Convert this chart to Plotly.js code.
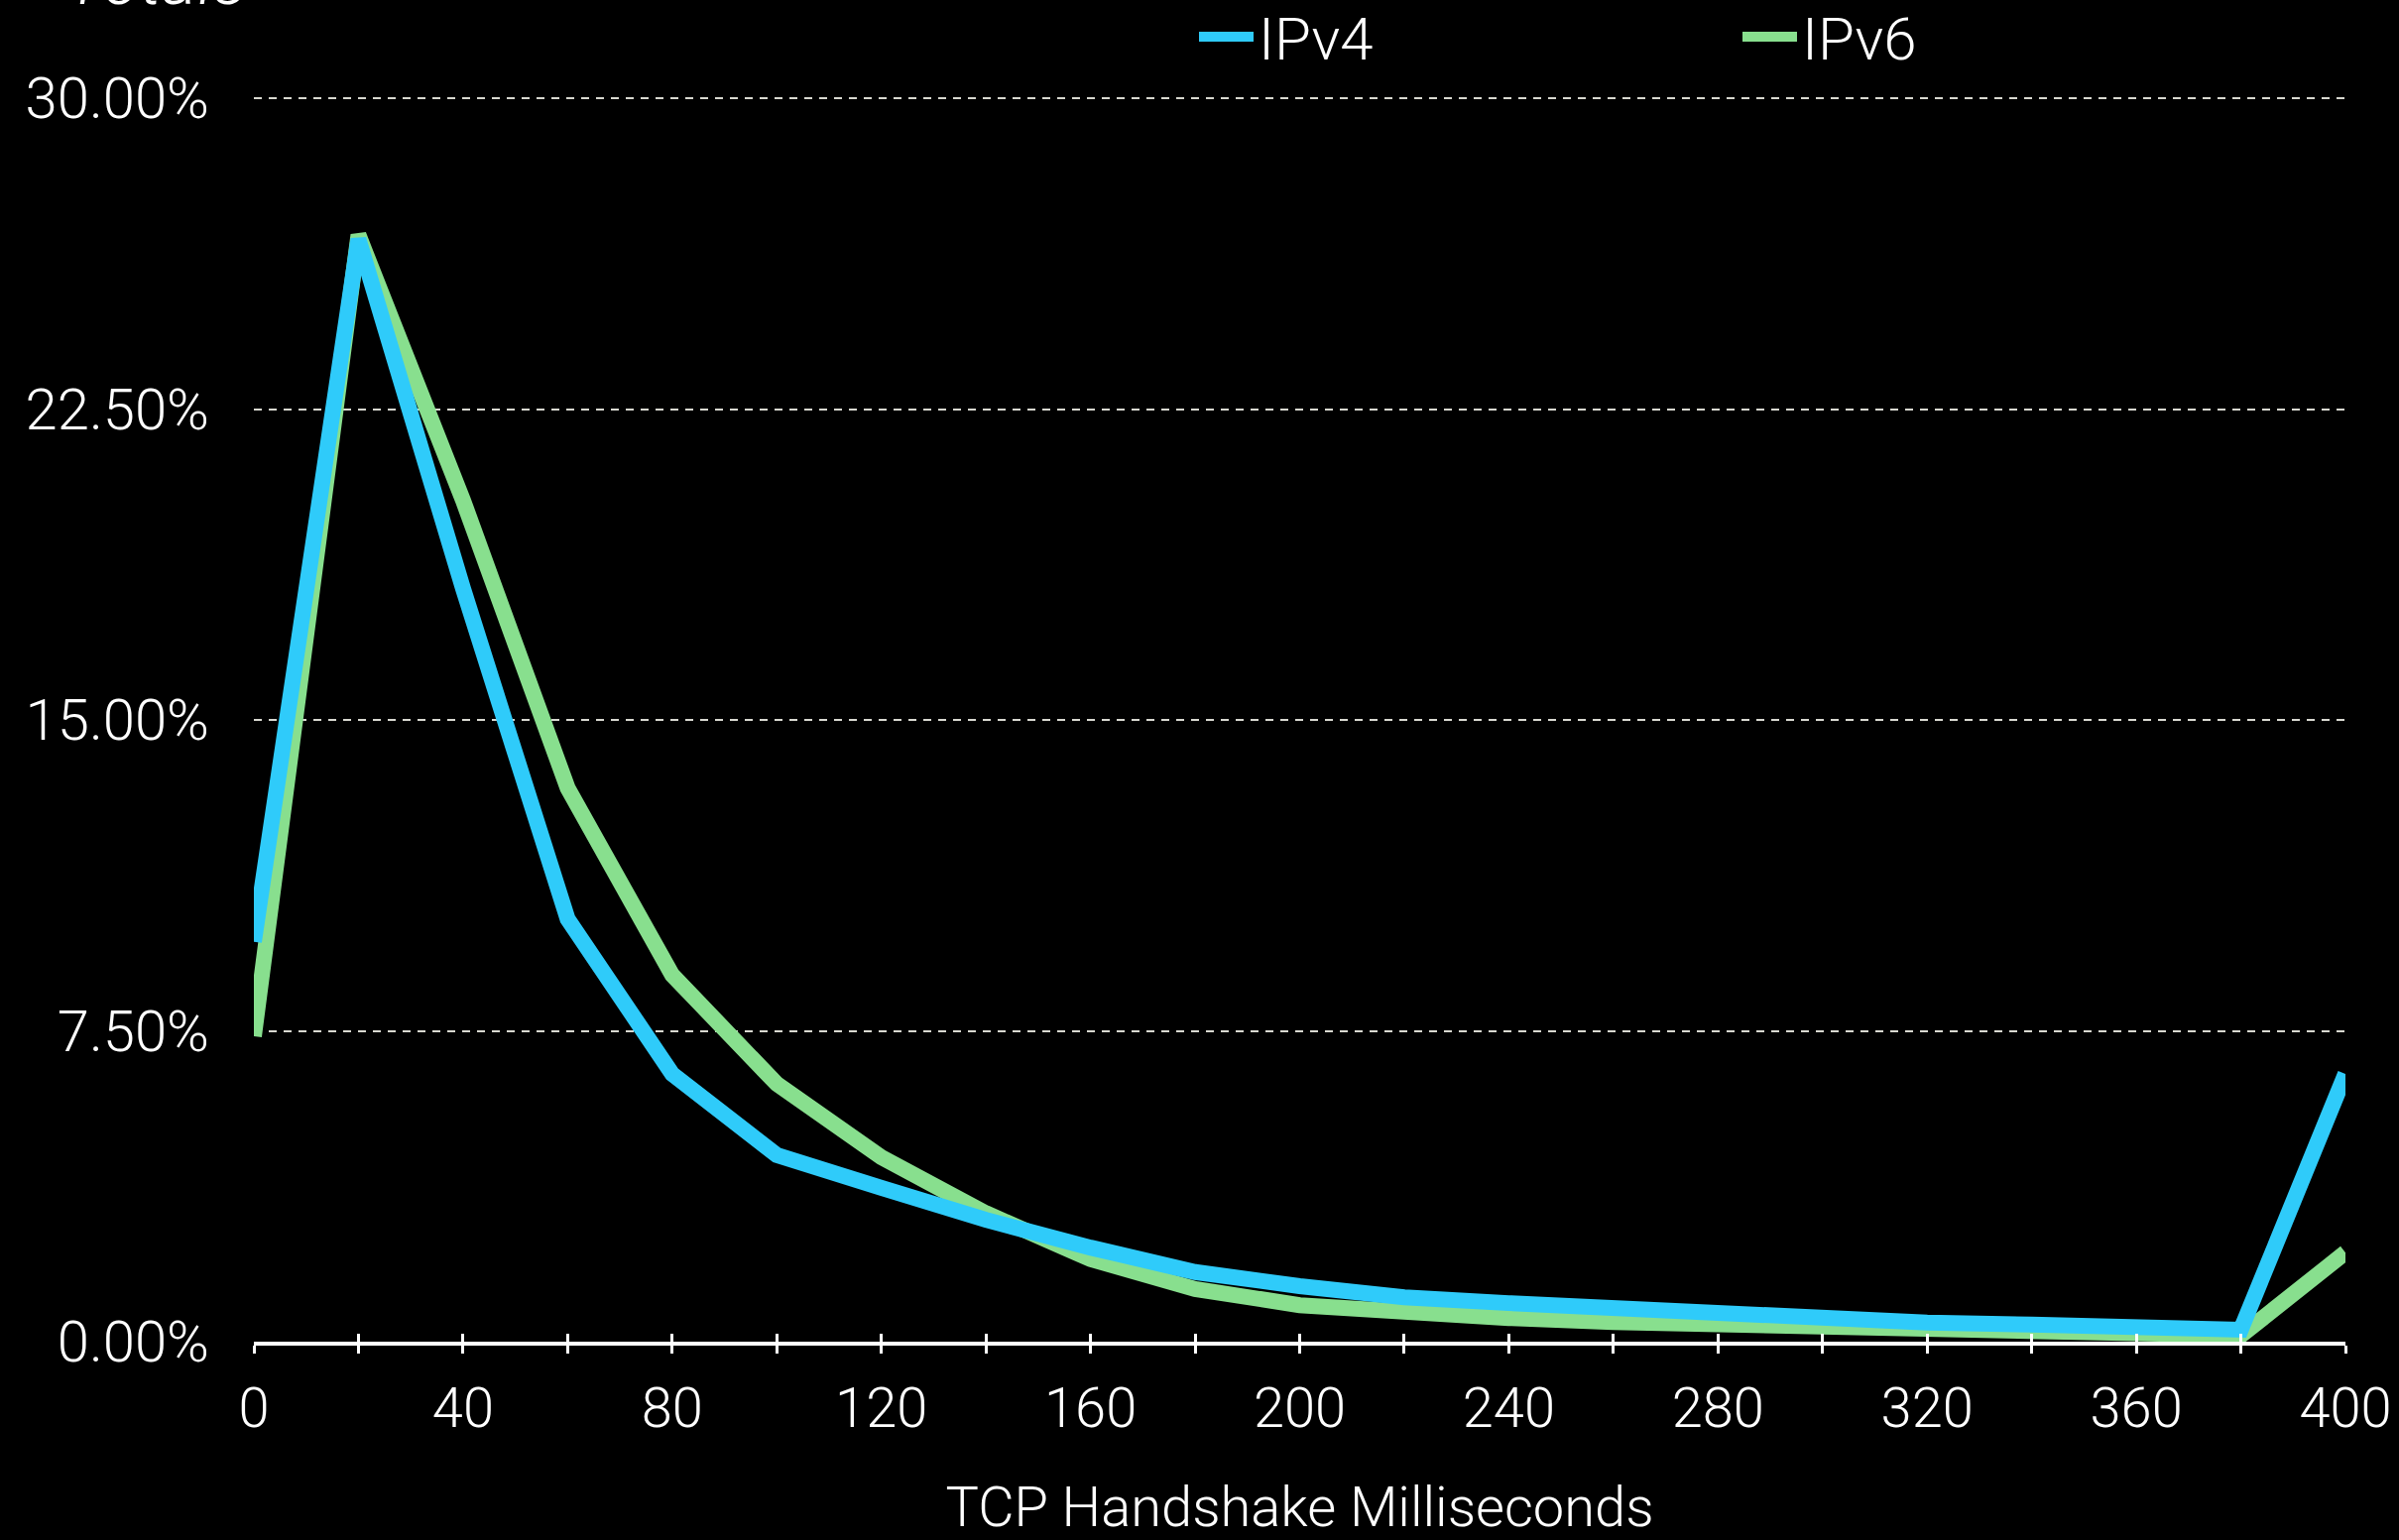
<!DOCTYPE html>
<html>
<head>
<meta charset="utf-8">
<script src="https://cdn.plot.ly/plotly-3.0.1.min.js"></script>
<style>
  html, body { margin: 0; padding: 0; background: #000; }
  #chart { width: 2419px; height: 1553px; }
</style>
</head>
<body>
<div id="chart"></div>
<script>
// Data (percent of handshakes per bucket)
const handshakeMs = [0, 20, 40, 60, 80, 100, 120, 140, 160, 180, 200, 220, 240, 260, 280, 300, 320, 340, 360, 380, 400];
const ipv4Pct = [9.65, 26.6, 18.17, 10.2, 6.46, 4.5, 3.71, 2.94, 2.27, 1.68, 1.34, 1.07, 0.93, 0.80, 0.67, 0.56, 0.46, 0.41, 0.35, 0.29, 6.46];
const ipv6Pct = [7.37, 26.7, 20.3, 13.36, 8.85, 6.22, 4.45, 3.1, 1.99, 1.27, 0.88, 0.69, 0.57, 0.47, 0.41, 0.33, 0.27, 0.22, 0.19, 0.15, 2.15];
const yTickVals = [0, 7.5, 15, 22.5, 30];
const yTickText = ['0.00%', '7.50%', '15.00%', '22.50%', '30.00%'];
const xTickVals = [0, 40, 80, 120, 160, 200, 240, 280, 320, 360, 400];
const xTickText = ['0', '40', '80', '120', '160', '200', '240', '280', '320', '360', '400'];
const seriesNames = ['IPv4', 'IPv6'];
const chartTitle = 'Totals';
const xTitle = 'TCP Handshake Milliseconds';

const FONT = 'Roboto, "Helvetica Neue", Arial, sans-serif';
const BLUE = '#2FCBFA';
const GREEN = '#88DF8E';

const traces = [
  {
    x: handshakeMs, y: ipv6Pct, name: seriesNames[1], type: 'scatter', mode: 'lines',
    line: { color: GREEN, width: 16 }, legendrank: 2, hoverinfo: 'skip'
  },
  {
    x: handshakeMs, y: ipv4Pct, name: seriesNames[0], type: 'scatter', mode: 'lines',
    line: { color: BLUE, width: 16 }, legendrank: 1, hoverinfo: 'skip'
  },
  {
    // carrier for the overlay axis that draws the upper half of the tick marks
    x: handshakeMs, y: ipv4Pct, xaxis: 'x2', type: 'scatter', mode: 'lines',
    line: { color: 'rgba(0,0,0,0)', width: 0 }, showlegend: false, hoverinfo: 'skip'
  }
];

const layout = {
  width: 2419, height: 1553,
  paper_bgcolor: '#000', plot_bgcolor: '#000',
  margin: { l: 256, r: 54, t: 97, b: 200, autoexpand: false },
  font: { family: FONT, color: '#fff', size: 56, weight: 300 },
  title: {
    text: '<i>' + chartTitle + '</i>',
    font: { family: FONT, size: 70, color: '#fff', weight: 300 },
    xref: 'container', x: 66 / 2419, xanchor: 'left',
    yref: 'container', y: 1 - 4 / 1553, yanchor: 'bottom'
  },
  showlegend: true,
  legend: {
    orientation: 'h',
    xref: 'container', x: 1204 / 2419, xanchor: 'left',
    yref: 'container', y: 1 - 37 / 1553, yanchor: 'middle',
    font: { family: FONT, size: 60, color: '#fff', weight: 300 },
    bgcolor: 'rgba(0,0,0,0)',
    itemwidth: 55,
    entrywidth: 478,
    traceorder: 'normal'
  },
  xaxis: {
    range: [0, 400], tickvals: xTickVals, ticktext: xTickText,
    showgrid: false, zeroline: false,
    showline: true, linecolor: '#fff', linewidth: 4,
    ticks: 'outside', ticklen: 8, tickwidth: 3, tickcolor: '#fff',
    minor: { dtick: 20, tick0: 0, ticks: 'outside', ticklen: 8, tickwidth: 3, tickcolor: '#fff', showgrid: false },
    ticklabelstandoff: 7,
    tickfont: { family: FONT, size: 56, color: '#fff', weight: 300 },
    title: { text: xTitle, standoff: 62, font: { family: FONT, size: 56, color: '#fff', weight: 300 } },
    fixedrange: true
  },
  xaxis2: {
    overlaying: 'x', matches: 'x', range: [0, 400], side: 'bottom', anchor: 'y',
    showgrid: false, zeroline: false, showline: false,
    ticks: 'inside', dtick: 20, tick0: 0, ticklen: 8, tickwidth: 3, tickcolor: '#fff',
    showticklabels: false
  },
  yaxis: {
    range: [0, 30.05], tickvals: yTickVals, ticktext: yTickText,
    showgrid: true, gridcolor: '#d8d8d0', gridwidth: 2, griddash: '8px,7px',
    zeroline: false, showline: false,
    ticks: '', ticklabelstandoff: 44,
    tickfont: { family: FONT, size: 58, color: '#fff', weight: 300 },
    fixedrange: true
  }
};

Plotly.newPlot('chart', traces, layout, { displayModeBar: false, staticPlot: true });
</script>
</body>
</html>
